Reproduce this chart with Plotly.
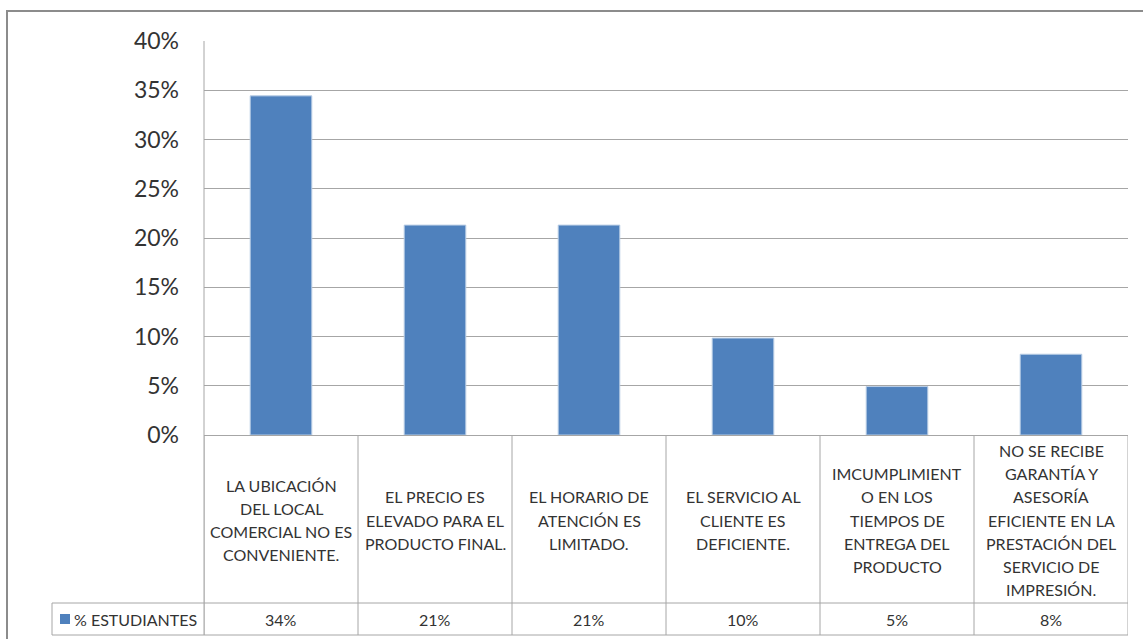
import plotly.graph_objects as go

categories = [
    "LA UBICACIÓN<br>DEL LOCAL<br>COMERCIAL NO ES<br>CONVENIENTE.",
    "EL PRECIO ES<br>ELEVADO PARA EL<br>PRODUCTO FINAL.",
    "EL HORARIO DE<br>ATENCIÓN ES<br>LIMITADO.",
    "EL SERVICIO AL<br>CLIENTE ES<br>DEFICIENTE.",
    "IMCUMPLIMIENT<br>O EN LOS<br>TIEMPOS DE<br>ENTREGA DEL<br>PRODUCTO",
    "NO SE RECIBE<br>GARANTÍA Y<br>ASESORÍA<br>EFICIENTE EN LA<br>PRESTACIÓN DEL<br>SERVICIO DE<br>IMPRESIÓN.",
]
series_name = "% ESTUDIANTES"
values = [0.3443, 0.2131, 0.2131, 0.0984, 0.0492, 0.0820]
y_ticks = [0, 0.05, 0.10, 0.15, 0.20, 0.25, 0.30, 0.35, 0.40]

W, H = 1143, 639
L, R, T, B = 204, 15, 41, 204
PW, PH = W - L - R, H - T - B

def px(x):
    return (x - L) / PW

def py(y):
    return (H - B - y) / PH

FONT = "Lato, Carlito, Calibri, sans-serif"
TXT = "#333333"
GRID = "#A6A6A6"
BAR = "#4F81BD"

n = len(categories)
fig = go.Figure(go.Bar(
    x=list(range(n)), y=values, width=0.4,
    marker=dict(color=BAR, line=dict(color="#B9CDE5", width=1)),
    hoverinfo="skip", showlegend=False,
))

shapes = []
# outer chart frame
shapes.append(dict(type="rect", xref="paper", yref="paper",
                   x0=px(7), x1=px(1160), y0=py(11), y1=py(660),
                   line=dict(color="#8C8C8C", width=2), fillcolor="rgba(0,0,0,0)", layer="below"))
row_top, row_mid, row_bot = 435, 603, 635
# vertical category boundaries in table
for i in range(n + 1):
    shapes.append(dict(type="line", xref="x", yref="paper", x0=i - 0.5, x1=i - 0.5,
                       y0=py(row_top), y1=py(row_bot), line=dict(color=GRID, width=1)))
# horizontal table lines
for yy in (row_mid, row_bot):
    shapes.append(dict(type="line", xref="paper", yref="paper", x0=px(52), x1=1,
                       y0=py(yy), y1=py(yy), line=dict(color=GRID, width=1)))
shapes.append(dict(type="line", xref="paper", yref="paper", x0=px(52), x1=px(52),
                   y0=py(row_mid), y1=py(row_bot), line=dict(color=GRID, width=1)))
# y-axis line extended down through table
shapes.append(dict(type="line", xref="paper", yref="paper", x0=0, x1=0,
                   y0=1, y1=py(row_bot), line=dict(color=GRID, width=1)))
# legend key square
shapes.append(dict(type="rect", xref="paper", yref="paper", x0=px(60), x1=px(70),
                   y0=py(624), y1=py(614), line=dict(width=0), fillcolor=BAR))

annotations = []
line_gap = 23.2
cell_center = 520
TFS = 16
for i, lab in enumerate(categories):
    lines = lab.split("<br>")
    k = len(lines)
    for j, ln in enumerate(lines):
        yy = cell_center + (j - (k - 1) / 2) * line_gap
        annotations.append(dict(x=i, xref="x", y=py(yy), yref="paper", text=ln,
                                showarrow=False, xanchor="center", yanchor="middle",
                                font=dict(family=FONT, size=TFS, color=TXT)))
    annotations.append(dict(x=i, xref="x", y=py((row_mid + row_bot) / 2), yref="paper",
                            text=f"{values[i]*100:.0f}%", showarrow=False,
                            xanchor="center", yanchor="middle",
                            font=dict(family=FONT, size=TFS, color=TXT)))
annotations.append(dict(x=px(72), xref="paper", y=py((row_mid + row_bot) / 2), yref="paper",
                        text=series_name, showarrow=False, xanchor="left", yanchor="middle",
                        font=dict(family=FONT, size=TFS, color=TXT)))

fig.update_layout(
    width=W, height=H,
    margin=dict(l=L, r=R, t=T, b=B, autoexpand=False),
    paper_bgcolor="white", plot_bgcolor="white",
    shapes=shapes, annotations=annotations,
    bargap=0.6,
    xaxis=dict(range=[-0.5, n - 0.5], showticklabels=False, showgrid=False,
               zeroline=False, showline=False, fixedrange=True),
    yaxis=dict(range=[0, 0.40], tickvals=y_ticks, tickformat=".0%",
               showgrid=True, gridcolor=GRID, gridwidth=1,
               zeroline=True, zerolinecolor=GRID, zerolinewidth=1,
               showline=False, ticks="", ticklabelstandoff=24,
               tickfont=dict(family=FONT, size=23, color="#333333"), fixedrange=True),
)

fig.write_html("out.html")
